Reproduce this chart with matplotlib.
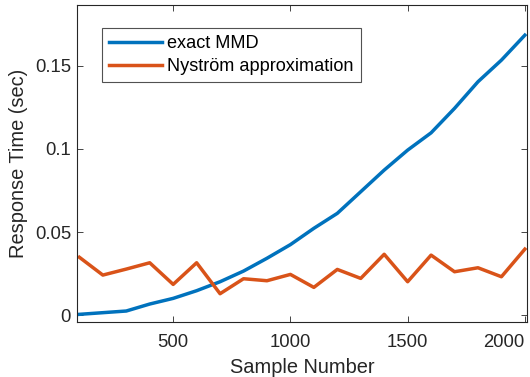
import numpy as np
import matplotlib.pyplot as plt

plt.rcParams['font.family'] = ['Liberation Sans', 'DejaVu Sans']

# sample sizes and measured response times (sec)
samples = [100, 200, 300, 400, 500, 600, 700, 800, 900, 1000,
           1100, 1200, 1300, 1400, 1500, 1600, 1700, 1800, 1900, 2000]
exact_mmd = [0.0006, 0.0016, 0.0026, 0.0068, 0.0102, 0.0148, 0.0202, 0.0266, 0.0343, 0.0425,
             0.0523, 0.0613, 0.0743, 0.0873, 0.0993, 0.1097, 0.1244, 0.1404, 0.1534, 0.1684]
nystrom = [0.0349, 0.0242, 0.0278, 0.0316, 0.0186, 0.0316, 0.0130, 0.0220, 0.0208, 0.0246,
           0.0168, 0.0276, 0.0222, 0.0367, 0.0202, 0.0362, 0.0262, 0.0286, 0.0232, 0.0398]

xticks = [500, 1000, 1500, 2000]
yticks = [0, 0.05, 0.1, 0.15]
ytick_labels = ["0", "0.05", "0.1", "0.15"]

dark = "#262626"

fig = plt.figure(figsize=(5.3, 3.77), dpi=100)
ax = fig.add_axes([0.1458, 0.1459, 0.8485, 0.8416])

ax.plot(samples, exact_mmd, color="#0072BD", lw=2.5, label="exact MMD")
ax.plot(samples, nystrom, color="#D95319", lw=2.5, label="Nyström approximation")

ax.set_xlim(91, 2009)
ax.set_ylim(-0.004, 0.1867)
ax.set_xticks(xticks)
ax.set_yticks(yticks)
ax.set_yticklabels(ytick_labels)
ax.tick_params(direction="in", length=4, width=0.6, top=True, right=True,
               labelsize=13.3, colors=dark)
ax.tick_params(axis="x", pad=9)
ax.tick_params(axis="y", pad=4.5)
# last x label is pushed inside the figure, as in the original
ax.get_xticklabels()[-1].set_horizontalalignment("right")
for s in ax.spines.values():
    s.set_color(dark)
    s.set_linewidth(0.8)

ax.set_xlabel("Sample Number", fontsize=14.4, color=dark, labelpad=4.5)
ax.set_ylabel("Response Time (sec)", fontsize=14.4, color=dark, labelpad=5)

leg = ax.legend(loc="upper left", bbox_to_anchor=(0.054, 0.926), fontsize=13.1,
                frameon=True, fancybox=False, borderpad=0.4, handlelength=2.9,
                handletextpad=0.3, labelspacing=0.3, borderaxespad=0)
leg.get_frame().set_edgecolor(dark)
leg.get_frame().set_linewidth(0.8)
for t in leg.get_texts():
    t.set_color("black")

fig.savefig("out.png", dpi=100)
